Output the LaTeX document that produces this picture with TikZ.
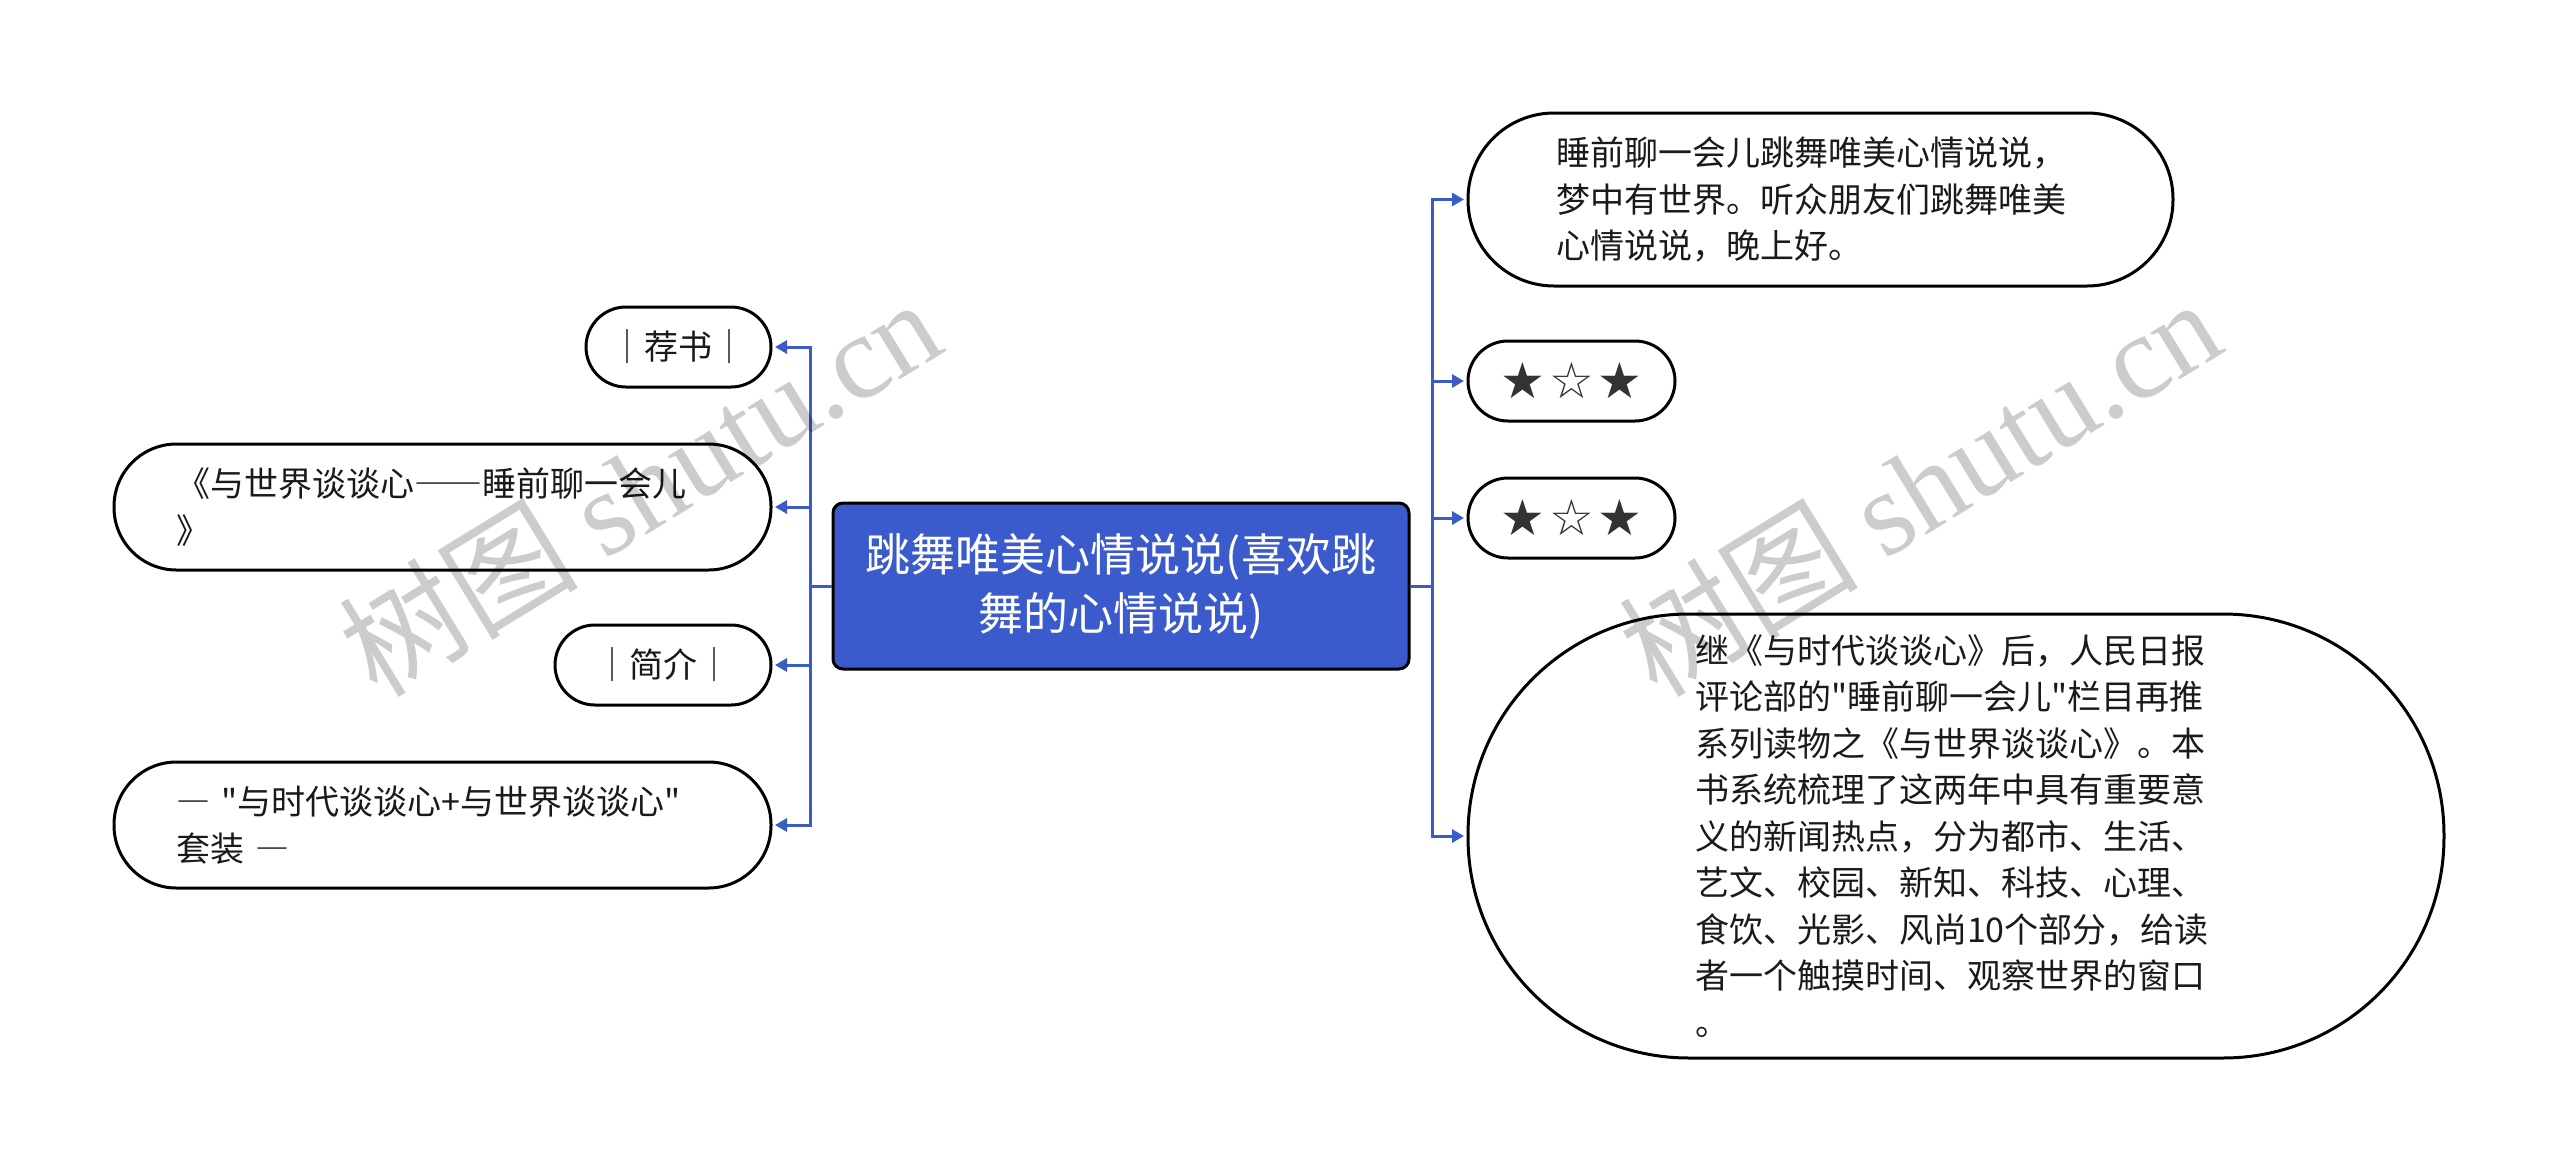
\documentclass[tikz,border=0pt]{standalone}
\usepackage{fontspec}
\setmainfont{Noto Sans CJK SC}[Ligatures=TeXOff]
\newfontfamily\starfont{DejaVu Sans}
\newfontfamily\wmlatin{Liberation Serif}
\usetikzlibrary{arrows.meta}
\definecolor{mainblue}{RGB}{59,91,204}
\definecolor{linkblue}{RGB}{59,91,199}
\definecolor{txt}{RGB}{26,26,26}
\definecolor{stargray}{RGB}{51,51,51}
\newcommand\starline{{\starfont\fontsize{50}{50}\selectfont\color{stargray}★\hspace{4pt}☆\hspace{4pt}★}}
\newcommand\fwdash{{\addfontfeature{RawFeature=+fwid}—}}
\begin{document}
\begin{tikzpicture}[x=1pt,y=-1pt,
  pill/.style={draw=black, line width=3pt, fill=white, rounded corners=#1, inner sep=0pt, text=txt, font=\fontsize{34}{46.5}\selectfont},
  root/.style={draw=black, line width=3pt, fill=mainblue, rounded corners=10pt, text=white, align=center, font=\fontsize{45}{59}\selectfont, minimum width=576pt, minimum height=166pt, inner sep=0pt},
  link/.style={draw=linkblue, line width=3pt, -{Triangle[length=12pt,width=13pt]}, shorten >=2.5pt},
  wm/.style={text=black, opacity=0.2, rotate=31.5, anchor=base west, inner sep=0pt, font=\fontsize{120}{120}\selectfont}
]
\fill[white] (0,0) rectangle (2560,1173);
\useasboundingbox (0,0) rectangle (2560,1173);

\coordinate (tl) at (810,586);
\coordinate (tr) at (1432,586);

\node[root] (c) at (1121,586) {跳舞唯美心情说说(喜欢跳\\舞的心情说说)};

% left
\node[pill=40pt, minimum width=185pt, minimum height=80pt] (l1) at (678.5,347) {｜荐书｜};
\node[pill=62.5pt, minimum width=657pt, minimum height=126pt, text width=533pt, align=left] (l2) at (442.5,507) {《与世界谈谈心\fwdash\fwdash 睡前聊一会儿\\》};
\node[pill=40pt, minimum width=216pt, minimum height=80pt] (l3) at (663,665) {｜简介｜};
\node[pill=62.5pt, minimum width=657pt, minimum height=126pt, text width=533pt, align=left] (l4) at (442.5,825) {\fwdash{} "与时代谈谈心+与世界谈谈心"\\套装 \fwdash};

% right
\node[pill=86pt, minimum width=705pt, minimum height=173pt, text width=528pt, align=left] (r1) at (1820.5,199.5) {睡前聊一会儿跳舞唯美心情说说，\\梦中有世界。听众朋友们跳舞唯美\\心情说说，晚上好。};
\node[pill=40pt, minimum width=207pt, minimum height=80pt] (r2) at (1571.5,381) {\starline};
\node[pill=40pt, minimum width=207pt, minimum height=80pt] (r3) at (1571.5,518) {\starline};
\node[pill=221pt, minimum width=976pt, minimum height=444pt, text width=522pt, align=left] (r4) at (1956,836) {继《与时代谈谈心》后，人民日报\\评论部的"睡前聊一会儿"栏目再推\\系列读物之《与世界谈谈心》。本\\书系统梳理了这两年中具有重要意\\义的新闻热点，分为都市、生活、\\艺文、校园、新知、科技、心理、\\食饮、光影、风尚10个部分，给读\\者一个触摸时间、观察世界的窗口\\。};

% connectors
\foreach \n in {l1,l2,l3,l4}
  \draw[link] (c.west) -- (c.west -| tl) |- (\n.east);
\foreach \n in {r1,r2,r3,r4}
  \draw[link] (c.east) -- (c.east -| tr) |- (\n.west);

% watermarks
\node[wm] (w1) at (377,700) {树图 {\wmlatin shutu.cn}};
\node[wm] (w2) at (1657,700) {树图 {\wmlatin shutu.cn}};
\end{tikzpicture}
\end{document}
